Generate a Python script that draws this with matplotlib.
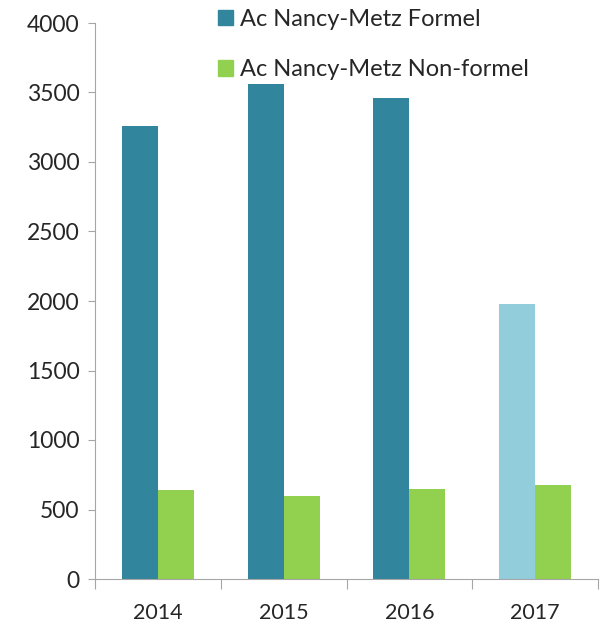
import matplotlib.pyplot as plt
import numpy as np
from matplotlib.patches import Patch

plt.rcParams['font.family'] = ['Lato', 'DejaVu Sans']

years = ['2014', '2015', '2016', '2017']
formel = [3260, 3560, 3460, 1975]
non_formel = [640, 600, 645, 675]
formel_colors = ['#31859C', '#31859C', '#31859C', '#92CDDC']
green = '#92D050'
axis_gray = '#A6A6A6'

fig = plt.figure(figsize=(6.02, 6.25), dpi=100)
ax = fig.add_axes([95/602, 46/625, 503/602, 556/625])

x = np.arange(len(years))
w = 0.286
ax.bar(x - w/2, formel, width=w, color=formel_colors)
ax.bar(x + w/2, non_formel, width=w, color=green)

ax.set_xlim(-0.5, 3.5)
ax.set_ylim(0, 4000)
ax.set_yticks(range(0, 4001, 500))
ax.tick_params(axis='y', labelsize=16.5, length=5, color=axis_gray, labelcolor='#262626', pad=6)

# category labels at centres, tick marks at boundaries
ax.set_xticks(np.arange(-0.5, 3.6, 1))
ax.set_xticklabels([])
ax.tick_params(axis='x', which='major', length=7, color=axis_gray)
ax.set_xticks(x, minor=True)
ax.set_xticklabels(years, minor=True)
ax.tick_params(axis='x', which='minor', length=0, labelsize=15.5, labelcolor='#262626', pad=17)

for s in ['top', 'right']:
    ax.spines[s].set_visible(False)
for s in ['left', 'bottom']:
    ax.spines[s].set_color(axis_gray)

handles = [Patch(color='#31859C'), Patch(color=green)]
fig.legend(handles, ['Ac Nancy-Metz Formel', 'Ac Nancy-Metz Non-formel'],
           loc='upper left', bbox_to_anchor=(197/602, 1.02), frameon=False,
           fontsize=17, handlelength=0.62, handleheight=0.62, handletextpad=0.3,
           labelspacing=1.25, labelcolor='#262626')

fig.savefig('out.png', dpi=100)
